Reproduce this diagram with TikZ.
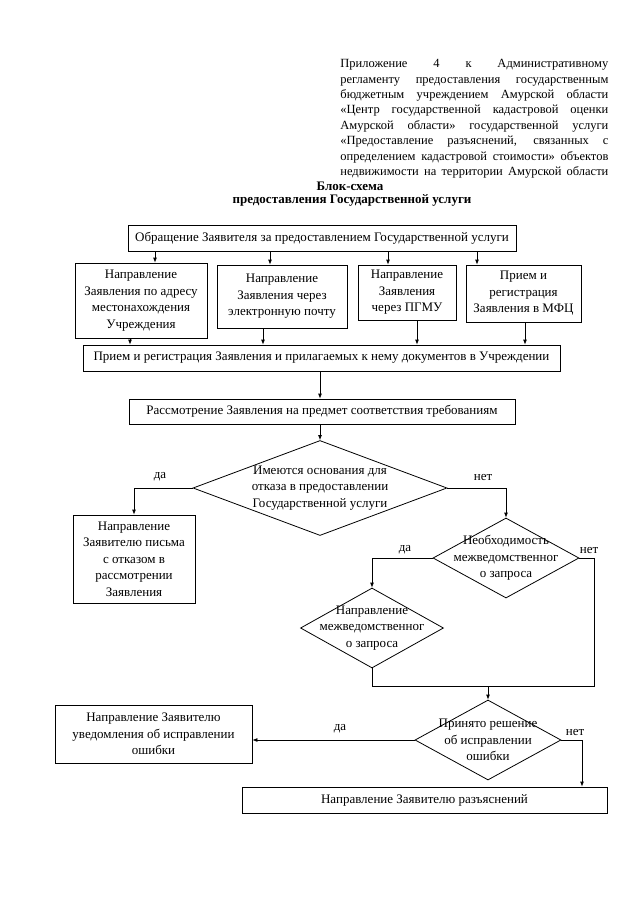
\documentclass[tikz,border=0pt]{standalone}
\usepackage{fontspec}
\setmainfont{Liberation Serif}
\usetikzlibrary{arrows.meta,positioning,calc,shapes.geometric}
\newcommand\hdrline[1]{\makebox[268pt][s]{\spaceskip=.3em plus 1fil minus .1em\relax #1}}
\tikzset{>={Latex[length=5pt,width=4pt]},
  blk/.style={draw,line width=0.8pt,align=center,inner sep=1pt,font=\fontsize{13}{16.5}\selectfont},
  dia/.style={draw,diamond,line width=0.8pt,inner sep=0pt},
  dtxt/.style={align=center,inner sep=0pt,font=\fontsize{13}{16.5}\selectfont},
  yn/.style={font=\fontsize{13}{15}\selectfont},
  hdr/.style={font=\fontsize{12.5}{15.4}\selectfont,text width=268pt,align=left,inner sep=0pt,anchor=north west},
  ttl/.style={font=\bfseries\fontsize{13}{15}\selectfont}}

\begin{document}
\begin{tikzpicture}[x=1pt,y=-1pt,line width=0.8pt]
\useasboundingbox (0,0) rectangle (640,905);
\node[hdr] (hd) at (340,59) {\hdrline{Приложение 4 к Административному}\\
  \hdrline{регламенту предоставления государственным}\\
  \hdrline{бюджетным учреждением Амурской области}\\
  \hdrline{«Центр государственной кадастровой оценки}\\
  \hdrline{Амурской области» государственной услуги}\\
  \hdrline{«Предоставление разъяснений, связанных с}\\
  \hdrline{определением кадастровой стоимости» объектов}\\
  \hdrline{недвижимости на территории Амурской области}};
\node[ttl] (t1) at (350,186) {Блок-схема};
\node[ttl] (t2) at (352,200) {предоставления Государственной услуги};
% boxes
\node[blk,minimum width=388pt,minimum height=26pt] (b1) at (322,238) {Обращение Заявителя за предоставлением Государственной услуги};
\node[blk,minimum width=132pt,minimum height=75pt] (bA) at (141,300.5) {Направление\\Заявления по адресу\\местонахождения\\Учреждения};
\node[blk,minimum width=130pt,minimum height=63pt] (bB) at (282,296.5) {Направление\\Заявления через\\электронную почту};
\node[blk,minimum width=98pt,minimum height=55pt] (bC) at (407,292.5) {Направление\\Заявления\\через ПГМУ};
\node[blk,minimum width=115pt,minimum height=57pt] (bD) at (523.5,293.5) {Прием и\\регистрация\\Заявления в МФЦ};
\node[blk,minimum width=477pt,minimum height=26pt] (bE) at (321.5,358) {Прием и регистрация Заявления и прилагаемых к нему документов в Учреждении};
\node[blk,minimum width=386pt,minimum height=25pt] (bF) at (322,411.5) {Рассмотрение Заявления на предмет соответствия требованиям};
\node[blk,minimum width=122pt,minimum height=88pt] (bG) at (134,559) {Направление\\Заявителю письма\\с отказом в\\рассмотрении\\Заявления};
\node[blk,minimum width=197pt,minimum height=58pt] (bH) at (153.5,734) {Направление Заявителю\\уведомления об исправлении\\ошибки};
\node[blk,minimum width=365pt,minimum height=26pt] (bI) at (424.5,800) {Направление Заявителю разъяснений};
% diamonds
\node[dia,minimum width=254pt,minimum height=95pt] (d1) at (320,488) {};
\node[dtxt] (d1t) at (d1) {Имеются основания для\\отказа в предоставлении\\Государственной услуги};
\node[dia,minimum width=146pt,minimum height=80pt] (d2) at (506,558) {};
\node[dtxt] (d2t) at (d2) {Необходимость\\межведомственног\\о запроса};
\node[dia,minimum width=143pt,minimum height=80pt] (d3) at (372,628) {};
\node[dtxt] (d3t) at (d3) {Направление\\межведомственног\\о запроса};
\node[dia,minimum width=146pt,minimum height=80pt] (d4) at (488,740) {};
\node[dtxt] (d4t) at (d4) {Принято решение\\об исправлении\\ошибки};
% yes/no
\node[yn] (y1) at (160,477) {да};
\node[yn] (n1) at (483,477) {нет};
\node[yn] (y2) at (405,550) {да};
\node[yn] (n2) at (589,550) {нет};
\node[yn] (y3) at (340,729) {да};
\node[yn] (n3) at (575,732) {нет};
\coordinate (mr) at (594,686);
% connectors
\foreach \b/\x in {bA/155,bB/270,bC/388,bD/477}
  \draw[->] (\x,0 |- b1.south) -- (\x,0 |- \b.north);
\foreach \b/\x in {bA/130,bB/263,bC/417,bD/525}
  \draw[->] (\x,0 |- \b.south) -- (\x,0 |- bE.north);
\draw[->] (320,0 |- bE.south) -- (320,0 |- bF.north);
\draw[->] (320,0 |- bF.south) -- (d1.north);
\draw[->] (d1.west) -| (bG.north);
\draw[->] (d1.east) -| (d2.north);
\draw[->] (d2.west) -| (d3.north);
\draw (d2.east) -| (mr) -- (d3.south |- mr) -- (d3.south);
\draw[->] (d4.north |- mr) -- (d4.north);
\draw[->] (d4.west) -- (d4.west -| bH.east);
\draw[->] (d4.east) -| (bI.north -| 582,0);
\end{tikzpicture}
\end{document}
